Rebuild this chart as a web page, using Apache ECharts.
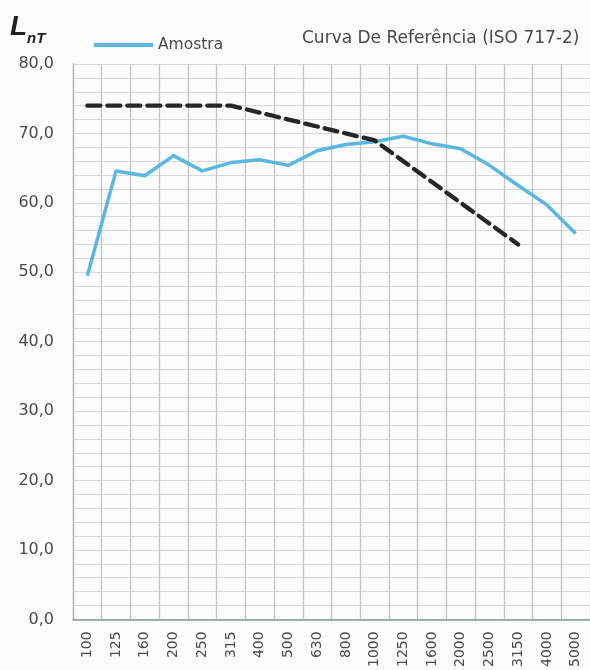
<!DOCTYPE html>
<html>
<head>
<meta charset="utf-8">
<script src="https://cdn.jsdelivr.net/npm/echarts@6/dist/echarts.min.js"></script>
<style>
  html, body { margin: 0; padding: 0; background: #fcfcfc; }
  #chart { width: 590px; height: 670px; }
</style>
</head>
<body>
<div id="chart"></div>
<script>
// Frequency bands (Hz)
const frequencies = ['100', '125', '160', '200', '250', '315', '400', '500', '630', '800',
  '1000', '1250', '1600', '2000', '2500', '3150', '4000', '5000'];

// Measured L'nT of the sample (dB)
const amostra = [49.5, 64.6, 63.9, 66.8, 64.6, 65.8, 66.2, 65.4, 67.5, 68.4,
  68.8, 69.6, 68.5, 67.8, 65.4, 62.5, 59.7, 55.6];

// Shifted ISO 717-2 reference curve (dB), defined 100–3150 Hz
const referencia = [74, 74, 74, 74, 74, 74, 73, 72, 71, 70,
  69, 66, 63, 60, 57, 54, null, null];

// Y-axis scale
const yMin = 0, yMax = 80, yStep = 10;

const FONT = 'DejaVu Sans';
const TEXT = '#4a4a4a';

const chart = echarts.init(document.getElementById('chart'), null, { renderer: 'canvas' });

chart.setOption({
  backgroundColor: '#fcfcfc',
  animation: false,
  grid: { left: 73, top: 64, bottom: 45, right: -9, containLabel: false },
  legend: {
    data: [{ name: 'Amostra' }],
    left: 89, top: 32,
    itemWidth: 59, itemHeight: 4, itemGap: 4,
    icon: 'rect',
    textStyle: { fontFamily: FONT, fontSize: 15.5, color: TEXT }
  },
  graphic: [
    {
      type: 'text', left: 10, top: 9,
      style: {
        text: '{L|L}{s|nT}',
        rich: {
          L: { fontFamily: 'Liberation Sans', fontSize: 28, fontWeight: 'bold', fontStyle: 'italic', fill: '#222', verticalAlign: 'top', lineHeight: 28 },
          s: { fontFamily: 'Liberation Sans', fontSize: 15, fontWeight: 'bold', fontStyle: 'italic', fill: '#222', padding: [22, 0, 0, 0], lineHeight: 15 }
        }
      }
    },
    {
      type: 'text', left: 302, top: 30,
      style: { text: 'Curva De Referência (ISO 717-2)', fontFamily: FONT, fontSize: 17, fill: TEXT }
    }
  ],
  xAxis: {
    type: 'category',
    data: frequencies,
    boundaryGap: true,
    axisLine: { show: true, lineStyle: { color: '#8c9494', width: 1.5 } },
    axisTick: { show: false },
    axisLabel: { rotate: 90, margin: 12, fontFamily: FONT, fontSize: 14, color: TEXT, interval: 0 },
    splitLine: { show: true, interval: 0, lineStyle: { color: '#c2c6c8', width: 1.3 } }
  },
  yAxis: {
    type: 'value',
    min: yMin, max: yMax, interval: yStep,
    axisLine: { show: true, lineStyle: { color: '#a9afb1', width: 1.3 } },
    axisTick: { show: false },
    axisLabel: {
      margin: 19, fontFamily: FONT, fontSize: 16, color: TEXT,
      padding: [6, 0, 0, 0],
      formatter: v => v.toFixed(1).replace('.', ',')
    },
    splitLine: { show: true, lineStyle: { color: '#d6d9db', width: 1.2 } },
    minorTick: { show: false, splitNumber: 5 },
    minorSplitLine: { show: true, lineStyle: { color: '#d6d9db', width: 1.2 } }
  },
  series: [
    {
      name: 'Amostra',
      type: 'line',
      data: amostra,
      symbol: 'none',
      color: '#5ab7de',
      lineStyle: { width: 3.5, color: '#5ab7de', join: 'round' },
      z: 3
    },
    {
      name: 'Curva De Referência (ISO 717-2)',
      type: 'line',
      data: referencia,
      symbol: 'none',
      connectNulls: false,
      lineStyle: { width: 4.3, color: '#262626', type: [13, 7], cap: 'round' },
      z: 4
    }
  ]
});
</script>
</body>
</html>
